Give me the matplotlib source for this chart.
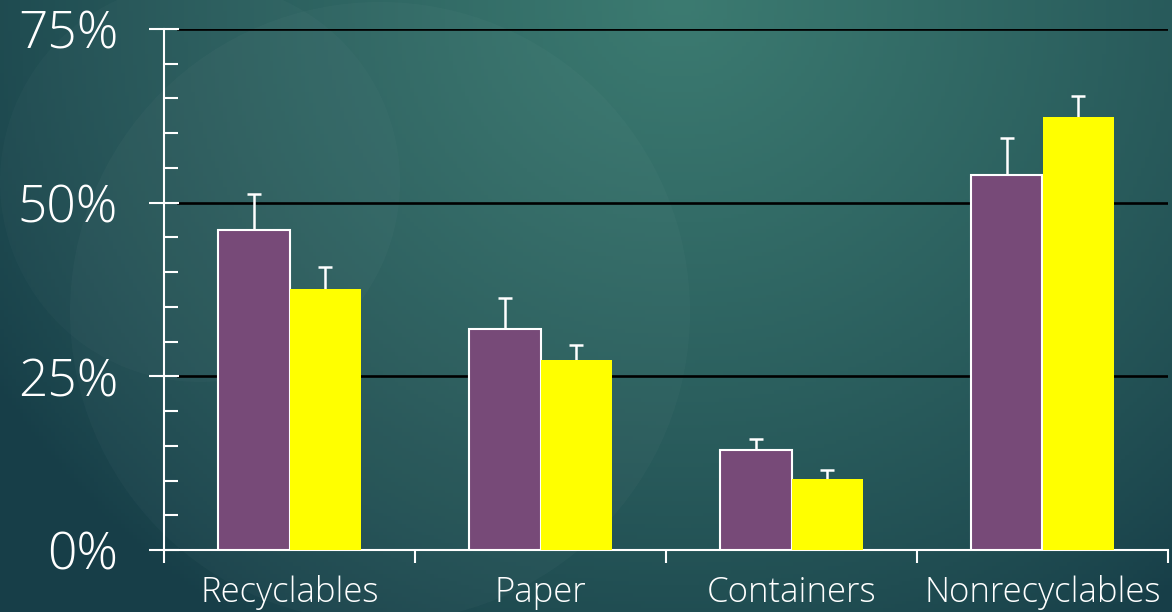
import matplotlib.pyplot as plt
import numpy as np
from matplotlib.patches import Circle

categories = ["Recyclables", "Paper", "Containers", "Nonrecyclables"]
purple_vals = [46.0, 31.8, 14.4, 54.0]
purple_err = [5.2, 4.5, 1.6, 5.3]
yellow_vals = [37.6, 27.4, 10.2, 62.3]
yellow_err = [3.1, 2.1, 1.3, 3.1]
y_ticks = [0, 25, 50, 75]
y_labels = ["0%", "25%", "50%", "75%"]

plt.rcParams['font.family'] = ['Open Sans', 'DejaVu Sans']

W, H = 1172, 612
fig = plt.figure(figsize=(W / 100, H / 100), dpi=100)

# background: teal gradient with soft circles (pixel units so circles stay round)
bg = fig.add_axes([0, 0, 1, 1], zorder=-10)
X, Y = np.meshgrid(np.linspace(0, W, 300), np.linspace(H, 0, 160))
c_dark = np.array([0x17, 0x3e, 0x48]) / 255
c_light = np.array([0x3c, 0x7b, 0x71]) / 255
t = np.clip(1.0 - np.hypot((X - 680) / 800, (Y - H) / 750), 0, 1) ** 0.8
img = c_dark[None, None, :] * (1 - t[..., None]) + c_light[None, None, :] * t[..., None]
bg.imshow(img, extent=[0, W, 0, H], aspect='auto', origin='upper')
bg.add_patch(Circle((380, 300), 310, color='white', alpha=0.025, lw=0))
bg.add_patch(Circle((200, 430), 200, color='white', alpha=0.02, lw=0))
bg.set_xlim(0, W)
bg.set_ylim(0, H)
bg.axis('off')

ax = fig.add_axes([164 / W, 1 - 550 / H, (1168 - 164) / W, (550 - 29) / H])
ax.patch.set_alpha(0)

x = np.arange(len(categories))
w = 0.283
cap = 0.026
ax.bar(x - w / 2, purple_vals, w, color='#774a78', edgecolor='white', linewidth=1.5, zorder=3)
ax.bar(x + w / 2, yellow_vals, w, color='#ffff00', linewidth=0, zorder=3)

# upper-only error bars
for xs, vals, errs in [(x - w / 2, purple_vals, purple_err), (x + w / 2, yellow_vals, yellow_err)]:
    tops = np.array(vals) + np.array(errs)
    ax.vlines(xs, vals, tops, color='white', linewidth=1.8, zorder=2)
    ax.hlines(tops, xs - cap, xs + cap, color='white', linewidth=1.8, zorder=2)

for v in y_ticks[1:]:
    ax.axhline(v, xmin=0.014, xmax=1, color='black', linewidth=1.9, zorder=1)

ax.set_xlim(-0.5, len(categories) - 0.5)
ax.set_ylim(0, 75)

ax.set_yticks(y_ticks)
ax.set_yticklabels(y_labels, fontsize=37, color='white', fontweight='light')
ax.set_yticks(np.arange(0, 76, 5), minor=True)
ax.tick_params(axis='y', which='major', direction='inout', length=22, width=1.5,
               color='white', pad=22)
ax.tick_params(axis='y', which='minor', direction='in', length=10, width=1.5, color='white')

ax.set_xticks(x)
ax.set_xticklabels(categories, fontsize=25, color='white', fontweight='light')
ax.tick_params(axis='x', which='major', length=0, pad=18)
ax.set_xticks(np.arange(-0.5, len(categories), 1.0), minor=True)
ax.tick_params(axis='x', which='minor', direction='out', length=9, width=1.5, color='white')

for s in ['top', 'right']:
    ax.spines[s].set_visible(False)
for s in ['left', 'bottom']:
    ax.spines[s].set_color('white')
    ax.spines[s].set_linewidth(1.5)

fig.savefig('out.png', dpi=100)
